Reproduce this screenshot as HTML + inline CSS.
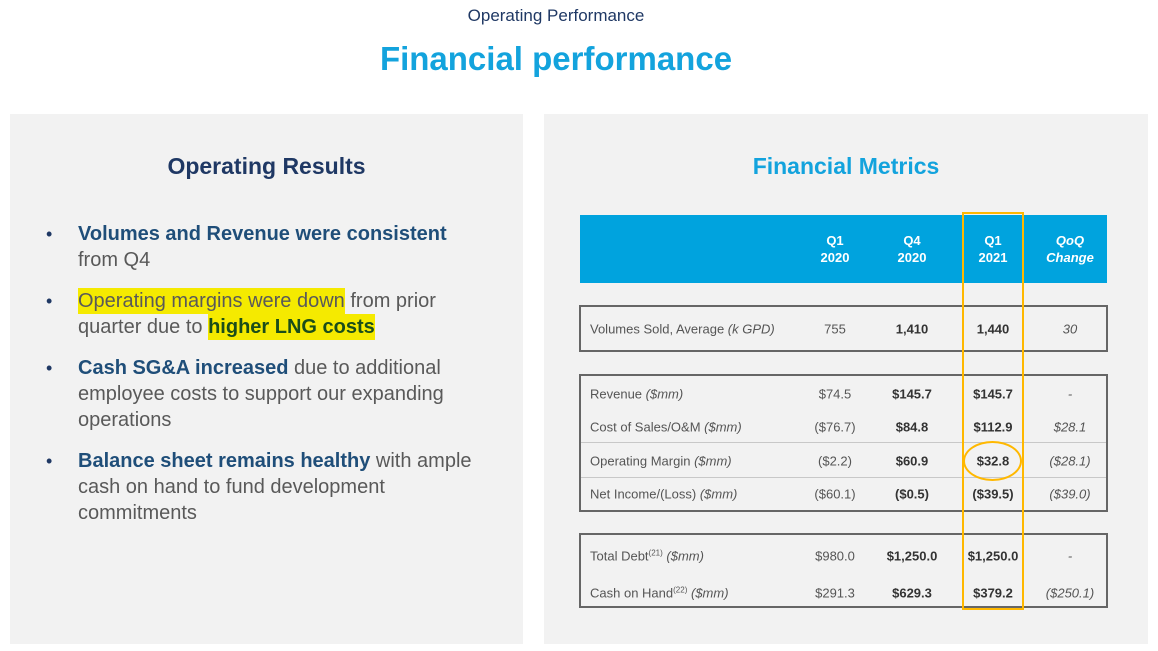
<!DOCTYPE html>
<html><head><meta charset="utf-8"><style>
body{margin:0;width:1158px;height:651px;background:#fff;position:relative;overflow:hidden;font-family:"Liberation Sans",sans-serif}
.a{position:absolute}
.panel{background:#f2f2f2}
.c{position:absolute;text-align:center;transform:translate(-50%,-50%);white-space:nowrap;font-size:13px;color:#555}
.l{position:absolute;transform:translateY(-50%);white-space:nowrap;font-size:13px;color:#555}
.b{font-weight:bold;color:#333}
.i{font-style:italic}
.box{position:absolute;border:2px solid #666;box-sizing:border-box}
.sep{position:absolute;left:581px;width:525px;height:1px;background:#c8c8c8}
.bul{position:absolute;left:78px;font-size:20px;line-height:26px;color:#595959;width:400px}
.bul::before{content:"•";position:absolute;left:-32px;color:#1f3864;font-size:18px}
.bul b{color:#1f4e79}
.hl{background:#f5ea00;padding:2px 0}
sup{font-size:8px}
</style></head><body>
<div class="a" style="left:0;width:1112px;top:6px;text-align:center;font-size:17px;color:#1f3864">Operating Performance</div>
<div class="a" style="left:0;width:1112px;top:40px;text-align:center;font-size:33px;font-weight:bold;color:#13a3dd">Financial performance</div>

<div class="a panel" style="left:10px;top:114px;width:513px;height:530px"></div>
<div class="a panel" style="left:544px;top:114px;width:604px;height:530px"></div>

<div class="a" style="left:10px;width:513px;top:153px;text-align:center;font-size:23px;font-weight:bold;color:#1f3864">Operating Results</div>
<div class="bul" style="top:221px"><b>Volumes and Revenue were consistent</b> from Q4</div>
<div class="bul" style="top:288px"><span class="hl">Operating margins were down</span> from prior quarter due to <b class="hl" style="color:#1a4d1a">higher LNG costs</b></div>
<div class="bul" style="top:355px"><b>Cash SG&amp;A increased</b> due to additional employee costs to support our expanding operations</div>
<div class="bul" style="top:448px"><b>Balance sheet remains healthy</b> with ample cash on hand to fund development commitments</div>

<div class="a" style="left:544px;width:604px;top:153px;text-align:center;font-size:23px;font-weight:bold;color:#13a3dd">Financial Metrics</div>

<div class="a" style="left:580px;top:215px;width:527px;height:68px;background:#00a3de"></div>
<div class="c" style="left:835px;top:249px;color:#fff;font-weight:bold;line-height:17px">Q1<br>2020</div>
<div class="c" style="left:912px;top:249px;color:#fff;font-weight:bold;line-height:17px">Q4<br>2020</div>
<div class="c" style="left:993px;top:249px;color:#fff;font-weight:bold;line-height:17px">Q1<br>2021</div>
<div class="c" style="left:1070px;top:249px;color:#fff;font-weight:bold;font-style:italic;line-height:17px">QoQ<br>Change</div>

<div class="box" style="left:579px;top:305px;width:529px;height:47px"></div>
<div class="box" style="left:579px;top:374px;width:529px;height:138px"></div>
<div class="sep" style="top:442px"></div>
<div class="sep" style="top:477px"></div>
<div class="box" style="left:579px;top:533px;width:529px;height:75px"></div>

<div id="rows"></div>

<div class="a" style="left:962px;top:212px;width:62px;height:398px;border:2px solid #ffb800;box-sizing:border-box"></div>
<div class="a" style="left:963px;top:441px;width:59px;height:40px;border:2px solid #ffb800;border-radius:50%;box-sizing:border-box"></div>

<script>
const rowLabels=["Volumes Sold, Average","Revenue","Cost of Sales/O&M","Operating Margin","Net Income/(Loss)","Total Debt","Cash on Hand"];
const rowUnits=["(k GPD)","($mm)","($mm)","($mm)","($mm)","($mm)","($mm)"];
const rowSups=["","","","","","(21)","(22)"];
const q1_2020=["755","$74.5","($76.7)","($2.2)","($60.1)","$980.0","$291.3"];
const q4_2020=["1,410","$145.7","$84.8","$60.9","($0.5)","$1,250.0","$629.3"];
const q1_2021=["1,440","$145.7","$112.9","$32.8","($39.5)","$1,250.0","$379.2"];
const qoq=["30","-","$28.1","($28.1)","($39.0)","-","($250.1)"];
const rowY=[329,394,427,461,494,556,593];
const root=document.getElementById('rows');
function add(cls,x,y,html,name){const d=document.createElement('div');d.className=cls;d.style.left=x+'px';d.style.top=y+'px';d.innerHTML=html;


root.appendChild(d);}
rowLabels.forEach((lab,i)=>{
 const y=rowY[i];
 add('l',590,y,lab+(rowSups[i]?'<sup>'+rowSups[i]+'</sup>':'')+' <span class="i">'+rowUnits[i]+'</span>','row-label');
 add('c',835,y,q1_2020[i],'cell-q1-2020');
 add('c b',912,y,q4_2020[i],'cell-q4-2020');
 add('c b',993,y,q1_2021[i],'cell-q1-2021');
 add('c i',1070,y,qoq[i],'cell-qoq-change');
});
</script>
</body></html>
